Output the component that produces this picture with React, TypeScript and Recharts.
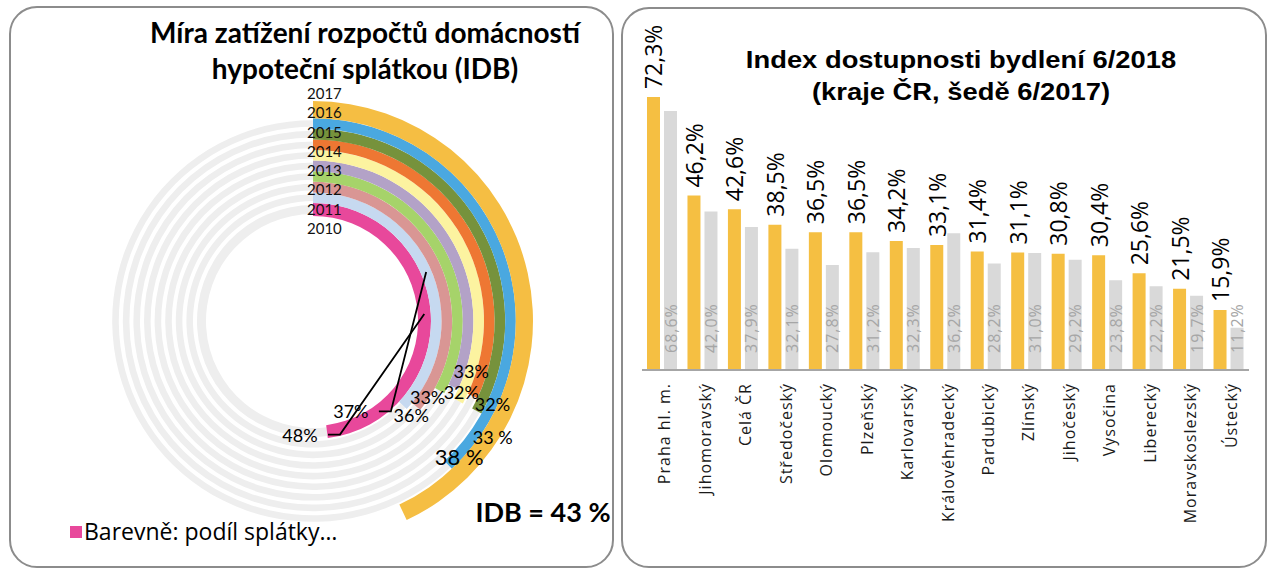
import React from "react";
import { PieChart, Pie, Cell, BarChart, Bar, XAxis, YAxis, LabelList } from "recharts";

// levý graf: podíl splátky na příjmu domácnosti, kruhy od vnitřního k vnějšímu
const IDB_SHARE = [48, 37, 36, 33, 32, 33, 32, 33, 38, 43];
const RING_YEARS = ["2010", "2011", "2012", "2013", "2014", "2015", "2016", "2017"];
const RING_COLORS = [
  "#e8489b", "#c6d9f0", "#d99694", "#a6d36a", "#b3a2c7",
  "#fcf3a0", "#ee7733", "#76923c", "#4aa8e0", "#f5be43",
];

// pravý graf: index dostupnosti bydlení
const REGIONS = [
  "Praha hl. m.", "Jihomoravský", "Celá ČR", "Středočeský", "Olomoucký",
  "Plzeňský", "Karlovarský", "Královéhradecký", "Pardubický", "Zlínský",
  "Jihočeský", "Vysočina", "Liberecký", "Moravskoslezský", "Ústecký",
];
const IDX_2018 = [72.3, 46.2, 42.6, 38.5, 36.5, 36.5, 34.2, 33.1, 31.4, 31.1, 30.8, 30.4, 25.6, 21.5, 15.9];
const IDX_2017 = [68.6, 42.0, 37.9, 32.1, 27.8, 31.2, 32.3, 36.2, 28.2, 31.0, 29.2, 23.8, 22.2, 19.7, 11.2];

const CX = 313;
const CY = 321;
const RING_EDGES = [105, 118, 128.6, 139.2, 149.8, 160.4, 171, 181.6, 192.2, 202.8, 220];
const GRAY = "#eeeeee";

// ruční rozmístění popisků (posun od konce oblouku)
const LABEL_POS = [
  { dx: -27, dy: 3, size: 18, leader: true },
  { dx: -52, dy: 6, size: 18, leader: true },
  { dx: -5, dy: 9, size: 18 },
  { dx: -12, dy: 6, size: 18 },
  { dx: 8, dy: 5, size: 18 },
  { dx: 13, dy: -30, size: 18 },
  { dx: 20, dy: 8, size: 18 },
  { dx: 16, dy: 26, size: 18, gap: true },
  { dx: 11, dy: -8, size: 22, gap: true },
  { dx: 140, dy: -1, size: 27, gap: true, bold: true, prefix: "IDB = " },
];

const RAD = Math.PI / 180;
const polar = (cx: number, cy: number, r: number, a: number) => ({
  x: cx + Math.cos(-a * RAD) * r,
  y: cy + Math.sin(-a * RAD) * r,
});

const ringLabel = (ring: number) => (p: any) => {
  if (p.index !== 0) return null;
  const lay: any = LABEL_POS[ring];
  const mr = (p.innerRadius + p.outerRadius) / 2;
  const end = polar(p.cx, p.cy, mr, p.endAngle);
  const mid = polar(p.cx, p.cy, mr, p.midAngle);
  const x = end.x + lay.dx;
  const y = end.y + lay.dy;
  const text = (lay.prefix || "") + IDB_SHARE[ring] + (lay.gap ? " %" : "%");
  return (
    <g>
      {lay.leader && (
        <polyline
          points={`${x + 28},${y} ${x + 40},${y} ${mid.x},${mid.y}`}
          fill="none"
          stroke="#000"
          strokeWidth={1.8}
        />
      )}
      <text
        x={x}
        y={y}
        textAnchor="middle"
        dominantBaseline="central"
        fontFamily="Lato"
        fontWeight={lay.bold ? 700 : 400}
        fontSize={lay.size}
        fill="#000"
      >
        {text}
      </text>
    </g>
  );
};

const pct = (v: number) => v.toFixed(1).replace(".", ",") + "%";

const RegionTick = ({ x, y, payload }: any) => (
  <text
    x={x + 2}
    y={y + 13}
    transform={`rotate(-90, ${x + 2}, ${y + 13})`}
    textAnchor="end"
    dominantBaseline="central"
    fontFamily="Open Sans"
    fontSize={16}
    letterSpacing={1}
    fill="#1a1a1a"
  >
    {payload.value}
  </text>
);

const TopLabel = ({ x, y, width, value }: any) => {
  const tx = x + width / 2;
  const ty = y - 8;
  return (
    <text
      x={tx}
      y={ty}
      transform={`rotate(-90, ${tx}, ${ty})`}
      textAnchor="start"
      dominantBaseline="central"
      fontFamily="Open Sans"
      fontSize={23}
      fill="#000"
    >
      {pct(value)}
    </text>
  );
};

const BaseLabel = ({ x, y, width, height, value }: any) => {
  const tx = x + width / 2;
  const ty = y + height - 17;
  return (
    <text
      x={tx}
      y={ty}
      transform={`rotate(-90, ${tx}, ${ty})`}
      textAnchor="start"
      dominantBaseline="central"
      fontFamily="Open Sans"
      fontSize={16}
      letterSpacing={1}
      fill="#a6a6a6"
    >
      {pct(value)}
    </text>
  );
};

const panel = (left: number, top: number, w: number, h: number): React.CSSProperties => ({
  position: "absolute",
  left,
  top,
  width: w,
  height: h,
  border: "2px solid #8c8c8c",
  borderRadius: 28,
  boxSizing: "border-box",
});

export default function App() {
  const barData = REGIONS.map((r, i) => ({ region: r, y2018: IDX_2018[i], y2017: IDX_2017[i] }));

  return (
    <div style={{ position: "absolute", left: 0, top: 0, width: 1272, height: 582, background: "#fff" }}>
      <div style={panel(9, 6, 605, 562)} />
      <div style={panel(621, 7, 646, 561)} />

      <div style={{ position: "absolute", left: 0, top: 0 }}>
        <PieChart width={616} height={575} margin={{ top: 0, right: 0, bottom: 0, left: 0 }}>
          {IDB_SHARE.map((v, i) => {
            const inner = RING_EDGES[i];
            const outer = RING_EDGES[i + 1];
            const data = [
              { name: "podíl", value: v },
              { name: "zbytek", value: 100 - v },
            ];
            const last = i === IDB_SHARE.length - 1;
            return (
              <React.Fragment key={i}>
                <Pie
                  data={data}
                  dataKey="value"
                  cx={CX}
                  cy={CY}
                  innerRadius={inner + 2}
                  outerRadius={outer - 2}
                  startAngle={90}
                  endAngle={-270}
                  isAnimationActive={false}
                  label={false}
                  labelLine={false}
                >
                  <Cell fill="none" stroke="none" />
                  <Cell fill={last ? "none" : GRAY} stroke="none" />
                </Pie>
                <Pie
                  data={data}
                  dataKey="value"
                  cx={CX}
                  cy={CY}
                  innerRadius={inner}
                  outerRadius={outer}
                  startAngle={90}
                  endAngle={-270}
                  isAnimationActive={false}
                  label={ringLabel(i)}
                  labelLine={false}
                >
                  <Cell fill={RING_COLORS[i]} stroke="none" />
                  <Cell fill="none" stroke="none" />
                </Pie>
              </React.Fragment>
            );
          })}
        </PieChart>
      </div>

      <div
        style={{
          position: "absolute",
          left: 0,
          top: 14,
          width: 730,
          textAlign: "center",
          fontFamily: "Lato",
          fontWeight: 700,
          fontSize: 28,
          lineHeight: "36px",
          color: "#000",
        }}
      >
        Míra zatížení rozpočtů domácností
        <br />
        hypoteční splátkou (IDB)
      </div>

      {RING_YEARS.map((yr, j) => (
        <div
          key={yr}
          style={{
            position: "absolute",
            left: 307,
            top: CY - 93 - 19.3 * j - 9,
            fontFamily: "Lato",
            fontSize: 15,
            lineHeight: "18px",
            color: "#111",
          }}
        >
          {yr}
        </div>
      ))}

      <div style={{ position: "absolute", left: 70, top: 526, width: 12, height: 12, background: RING_COLORS[0] }} />
      <div
        style={{
          position: "absolute",
          left: 84,
          top: 515,
          fontFamily: "Open Sans",
          fontSize: 23,
          lineHeight: "32px",
          color: "#000",
          whiteSpace: "nowrap",
        }}
      >
        Barevně: podíl splátky…
      </div>

      <div style={{ position: "absolute", left: 620, top: 0 }}>
        <BarChart
          width={645}
          height={575}
          data={barData}
          margin={{ top: 68, right: 16, left: 22, bottom: 0 }}
          barCategoryGap={5}
          barGap={4}
        >
          <XAxis
            dataKey="region"
            height={205}
            interval={0}
            tickLine={false}
            tickSize={0}
            tickMargin={0}
            axisLine={{ stroke: "#a6a6a6", strokeWidth: 2 }}
            tick={RegionTick}
          />
          <YAxis hide domain={[0, 80]} />
          <Bar dataKey="y2018" fill="#f5bf42" isAnimationActive={false}>
            <LabelList dataKey="y2018" content={TopLabel} />
          </Bar>
          <Bar dataKey="y2017" fill="#d9d9d9" isAnimationActive={false}>
            <LabelList dataKey="y2017" content={BaseLabel} />
          </Bar>
        </BarChart>
      </div>

      <div
        style={{
          position: "absolute",
          left: 661,
          top: 44,
          width: 600,
          textAlign: "center",
          fontFamily: "Liberation Sans",
          fontWeight: 700,
          fontSize: 24,
          lineHeight: "32px",
          color: "#000",
          transform: "scaleX(1.14)",
        }}
      >
        Index dostupnosti bydlení 6/2018
        <br />
        (kraje ČR, šedě 6/2017)
      </div>
    </div>
  );
}
